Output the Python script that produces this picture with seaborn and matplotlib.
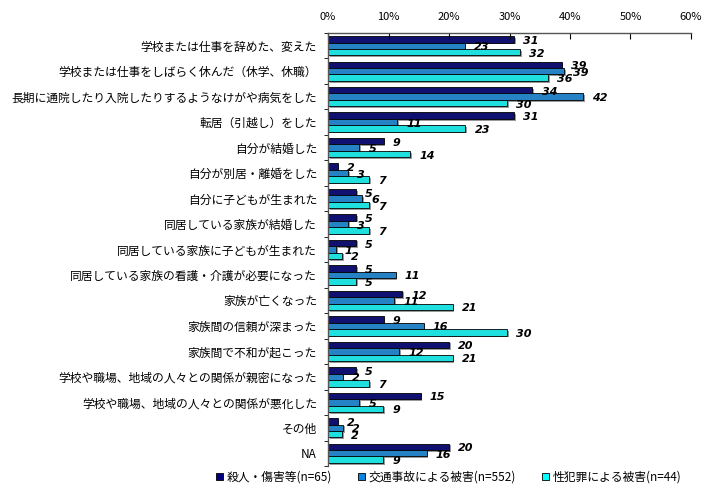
import matplotlib
matplotlib.use("Agg")
import matplotlib.pyplot as plt
import matplotlib.patheffects as pe
from matplotlib.patches import Patch
from matplotlib.ticker import FixedLocator, PercentFormatter
import seaborn as sns
import pandas as pd

categories = [
    "学校または仕事を辞めた、変えた",
    "学校または仕事をしばらく休んだ（休学、休職）",
    "長期に通院したり入院したりするようなけがや病気をした",
    "転居（引越し）をした",
    "自分が結婚した",
    "自分が別居・離婚をした",
    "自分に子どもが生まれた",
    "同居している家族が結婚した",
    "同居している家族に子どもが生まれた",
    "同居している家族の看護・介護が必要になった",
    "家族が亡くなった",
    "家族間の信頼が深まった",
    "家族間で不和が起こった",
    "学校や職場、地域の人々との関係が親密になった",
    "学校や職場、地域の人々との関係が悪化した",
    "その他",
    "NA",
]
series = ["殺人・傷害等(n=65)", "交通事故による被害(n=552)", "性犯罪による被害(n=44)"]

murder = [30.8, 38.6, 33.8, 30.8, 9.2, 1.6, 4.6, 4.6, 4.6, 4.6,
          12.3, 9.2, 20.0, 4.6, 15.3, 1.6, 20.0]
traffic = [22.6, 39.0, 42.2, 11.4, 5.2, 3.3, 5.6, 3.3, 1.3, 11.2,
           10.9, 15.8, 11.8, 2.4, 5.2, 2.5, 16.3]
sexual = [31.8, 36.4, 29.6, 22.7, 13.6, 6.8, 6.8, 6.8, 2.3, 4.6,
          20.6, 29.6, 20.6, 6.8, 9.1, 2.3, 9.1]

colors = ["#000080", "#0A86E0", "#00FFFF"]

plt.rcParams["font.family"] = ["Noto Sans CJK JP", "DejaVu Sans"]

rows = []
for vals, name in zip([murder, traffic, sexual], series):
    for cat, v in zip(categories, vals):
        rows.append({"item": cat, "series": name, "pct": v})
df = pd.DataFrame(rows)

fig = plt.figure(figsize=(7.12, 4.94), dpi=100)
ax = fig.add_axes([0.4607, 0.0567, 0.5098, 0.8765])

sns.barplot(data=df, x="pct", y="item", hue="series", order=categories,
            hue_order=series, palette=colors, orient="h", width=0.76,
            edgecolor="black", linewidth=0.6, legend=False, ax=ax,
            errorbar=None)

shadow = [pe.SimplePatchShadow(offset=(1.2, -1.2), shadow_rgbFace="#808080", alpha=0.8),
          pe.Normal()]
for bar in ax.patches:
    bar.set_path_effects(shadow)
    w = bar.get_width()
    yc = bar.get_y() + bar.get_height() / 2
    ax.text(w + 1.5, yc + 0.06, f"{w:.0f}", ha="left", va="center",
            fontsize=8, fontweight="bold", fontstyle="italic",
            family=["DejaVu Sans"])

ax.set_xlim(0, 60)
ax.set_ylim(len(categories) - 0.5, -0.5)
ax.xaxis.tick_top()
ax.set_xticks(range(0, 61, 10))
ax.xaxis.set_major_formatter(PercentFormatter(decimals=0))
ax.tick_params(axis="x", direction="in", length=4, pad=8, labelsize=8,
               colors="black")
ax.tick_params(axis="y", length=0, pad=8, labelsize=8.5)
ax.yaxis.set_minor_locator(FixedLocator([k + 0.5 for k in range(-1, len(categories))]))
ax.tick_params(axis="y", which="minor", length=3, direction="out")
ax.set_xlabel("")
ax.set_ylabel("")
for side in ["right", "bottom"]:
    ax.spines[side].set_visible(False)
for side in ["left", "top"]:
    ax.spines[side].set_color("#555555")
    ax.spines[side].set_linewidth(1.0)
ax.grid(False)

handles = [Patch(facecolor=c, edgecolor="black", linewidth=0.6) for c in colors]
fig.legend(handles, series, loc="center", bbox_to_anchor=(0.63, 0.034), ncol=3,
           frameon=False, fontsize=8.5, handlelength=0.6, handleheight=0.6,
           handletextpad=0.3, columnspacing=2.2)

fig.savefig("out.png", dpi=100)
